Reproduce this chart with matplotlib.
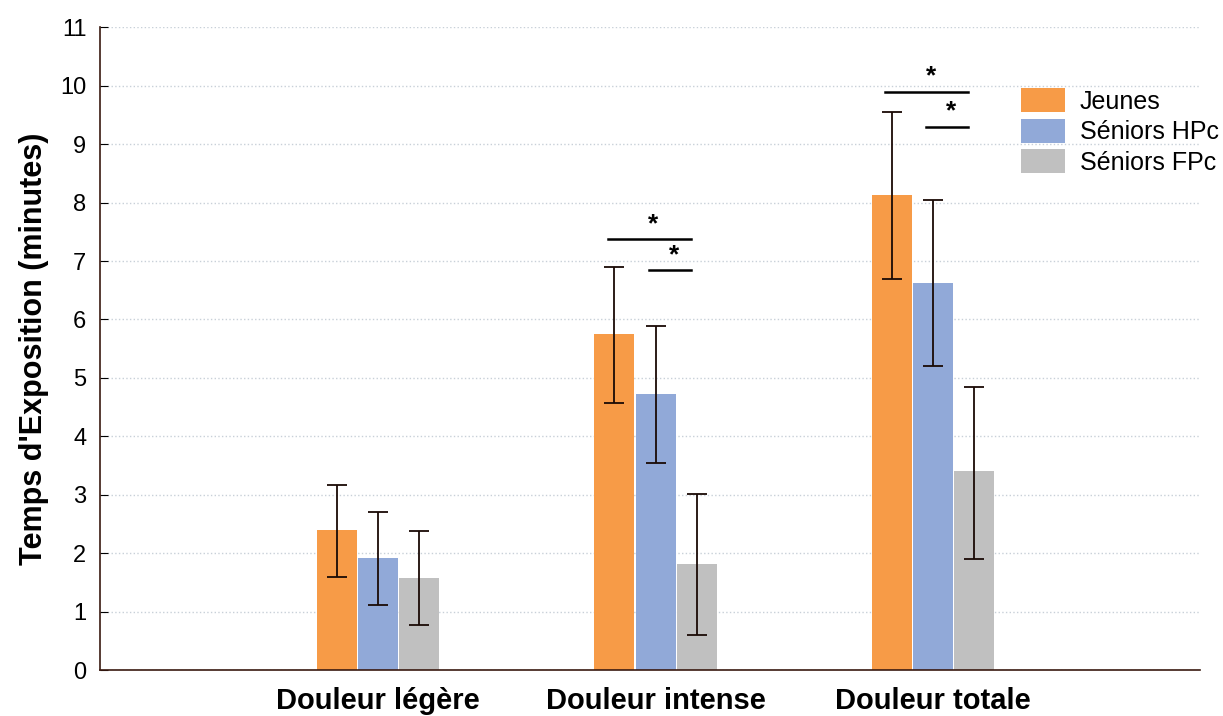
import numpy as np
import matplotlib.pyplot as plt

plt.rcParams['font.family'] = ['Liberation Sans', 'DejaVu Sans']

# Data
categories = ["Douleur légère", "Douleur intense", "Douleur totale"]
groups = ["Jeunes", "Séniors HPc", "Séniors FPc"]
colors = ["#f79b47", "#91a9d8", "#c0c0c0"]

means = {
    "Jeunes":      [2.40, 5.75, 8.13],
    "Séniors HPc": [1.92, 4.73, 6.63],
    "Séniors FPc": [1.58, 1.82, 3.40],
}
err_low = {
    "Jeunes":      [0.80, 1.18, 1.43],
    "Séniors HPc": [0.80, 1.18, 1.43],
    "Séniors FPc": [0.80, 1.22, 1.50],
}
err_high = {
    "Jeunes":      [0.77, 1.15, 1.42],
    "Séniors HPc": [0.78, 1.16, 1.42],
    "Séniors FPc": [0.80, 1.20, 1.45],
}

# significance bars: (category index, group from, group to, height)
sig = [(1, 0, 2, 7.38), (1, 1, 2, 6.85), (2, 0, 2, 9.90), (2, 1, 2, 9.30)]

fig = plt.figure(figsize=(12.23, 7.16), dpi=100)
ax = fig.add_axes([0.082, 0.064, 0.899, 0.898])

x = np.arange(len(categories))
w = 0.148
for i, g in enumerate(groups):
    pos = x + (i - 1) * w
    ax.bar(pos, means[g], width=w - 0.004, color=colors[i], label=g, zorder=2)
    ax.errorbar(pos, means[g], yerr=[err_low[g], err_high[g]], fmt='none',
                ecolor='#1a0a05', elinewidth=1.3, capsize=7, capthick=1.3, zorder=3)

for c, g0, g1, h in sig:
    x0 = c + (g0 - 1) * w - w * 0.17
    x1 = c + (g1 - 1) * w - w * 0.15
    ax.plot([x0, x1], [h, h], color='black', lw=1.8, zorder=3)
    ax.text((x0 + x1) / 2 + w * 0.1, h + 0.05, "*", ha='center', va='bottom',
            fontsize=19, fontweight='bold')

ax.set_xlim(-1.0, 2.96)
ax.set_ylim(0, 11)
ax.set_yticks(range(0, 12))
ax.tick_params(axis='y', direction='in', length=6, labelsize=17, pad=10)
ax.set_xticks(x)
ax.set_xticklabels(categories, fontsize=21, fontweight='bold')
ax.tick_params(axis='x', length=0, pad=12)
ax.set_ylabel("Temps d'Exposition (minutes)", fontsize=22, fontweight='bold', labelpad=8)
ax.yaxis.grid(True, linestyle=':', color='#c8d0d8', lw=1, zorder=0)
ax.set_axisbelow(True)
for s in ['top', 'right']:
    ax.spines[s].set_visible(False)
for s in ['left', 'bottom']:
    ax.spines[s].set_color('#3a1a10')
    ax.spines[s].set_linewidth(1.2)

ax.legend(loc='upper right', bbox_to_anchor=(1.038, 0.94), frameon=False, fontsize=18,
          handlelength=1.75, handleheight=1.1, labelspacing=0.2, handletextpad=0.6)

fig.savefig("out.png", dpi=100)
